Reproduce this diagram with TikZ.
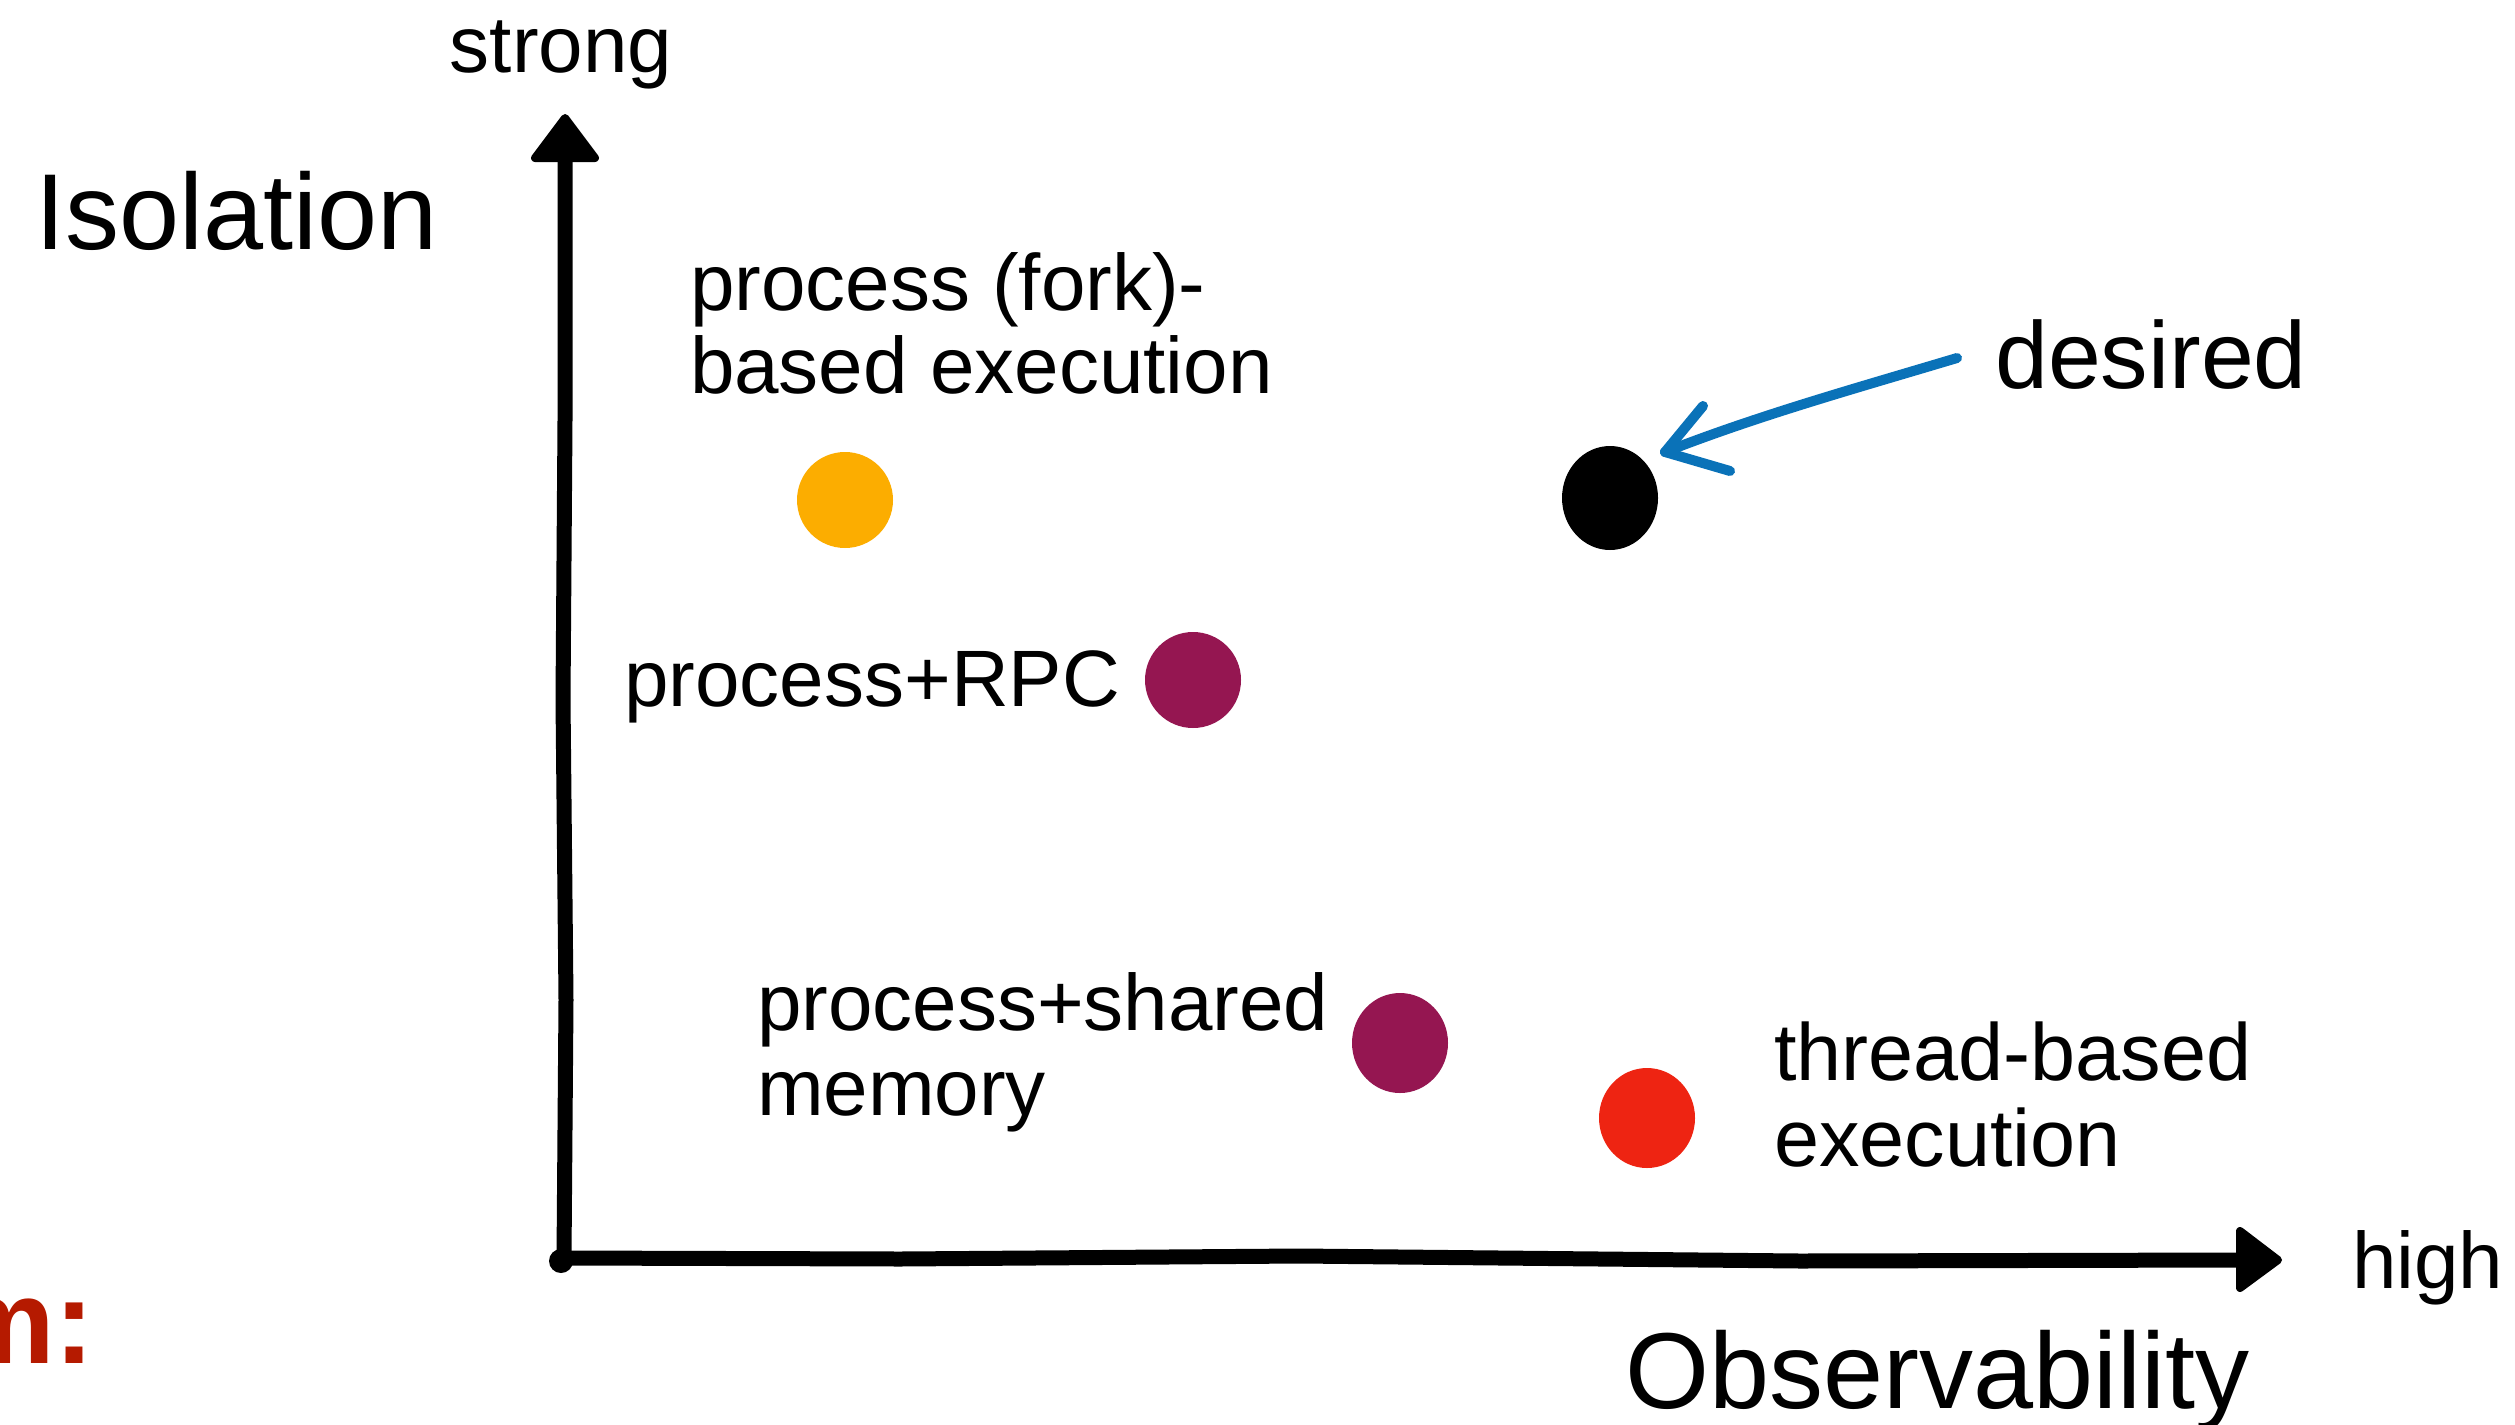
\documentclass[tikz,border=0pt]{standalone}
\usepackage{fontspec}
\setmainfont{Liberation Sans}
\usetikzlibrary{shapes.geometric}
\definecolor{dotorange}{HTML}{FCAD00}
\definecolor{dotpurple}{HTML}{951651}
\definecolor{dotred}{HTML}{EE2412}
\definecolor{arrowblue}{HTML}{0A72B8}
\definecolor{titlered}{HTML}{B51A00}
\tikzset{
  lbl/.style={anchor=base west, inner sep=0pt, outer sep=0pt, font=\fontsize{80}{86}\selectfont},
  biglbl/.style={anchor=base west, inner sep=0pt, outer sep=0pt, font=\fontsize{108}{120}\selectfont},
  dotnode/.style={ellipse, inner sep=0pt, draw=none, minimum width=96pt, minimum height=96pt},
  axisline/.style={line width=15pt, line cap=round, line join=round, black},
  axishead/.style={fill=black, draw=black, line width=8pt, line join=round},
  bluearrow/.style={line width=10pt, line cap=round, line join=round, arrowblue}
}
\begin{document}
\begin{tikzpicture}[x=1pt, y=-1pt]
\useasboundingbox (0,0) rectangle (2515,1424);
% axes
\coordinate (origin) at (564,1258);
\coordinate (ytop) at (565,158);
\coordinate (xend) at (2240,1260);
\draw[axisline] (origin) -- (566,1000) -- (563,700) -- (565,420) -- (ytop);
\draw[axisline] (origin) -- (900,1259) -- (1300,1256) -- (1800,1261) -- (xend);
\fill[black] (561,1261) circle (12pt);
\draw[axishead] (565,118) -- (535,158) -- (595,158) -- cycle;
\draw[axishead] (2278,1260) -- (2240,1231) -- (2240,1288) -- cycle;
% axis labels
\node[lbl, anchor=base] (strong) at (561,72) {strong};
\node[biglbl] (isolation) at (35,249) {Isolation};
\node[lbl] (high) at (2352,1288) {high};
\node[biglbl] (observ) at (1625,1408) {Observability};
\node[anchor=base east, inner sep=0pt, text=titlered, font=\fontsize{120}{130}\selectfont\bfseries] (cut) at (95,1363) {m:};
% dots
\node[dotnode, fill=dotorange] (fork) at (845,500) {};
\node[dotnode, fill=black, minimum height=104pt] (desired) at (1610,498) {};
\node[dotnode, fill=dotpurple] (rpc) at (1193,680) {};
\node[dotnode, fill=dotpurple, minimum height=100pt] (shm) at (1400,1043) {};
\node[dotnode, fill=dotred, minimum height=100pt] (thread) at (1647,1118) {};
% labels
\node[lbl] (forkA) at (690,310) {process (fork)-};
\node[lbl] (forkB) at (690,393) {based execution};
\node[lbl, anchor=base east] (rpclbl) at (1120,706) {process+RPC};
\node[lbl] (shmA) at (757,1030) {process+shared};
\node[lbl] (shmB) at (757,1115) {memory};
\node[lbl, font=\fontsize{81}{86}\selectfont] (threadA) at (1774,1080) {thread-based};
\node[lbl, font=\fontsize{81}{86}\selectfont] (threadB) at (1774,1166) {execution};
\node[anchor=base west, inner sep=0pt, font=\fontsize{95}{100}\selectfont] (desiredlbl) at (1995,388) {desired};
% blue arrow
\coordinate (bstart) at (1957,358);
\coordinate (btip) at (1665,452);
\coordinate (barmA) at (1703,406);
\coordinate (barmB) at (1730,471);
\draw[bluearrow] (bstart) .. controls (1850,390) and (1760,415) .. (btip);
\draw[bluearrow] (barmA) -- (btip) -- (barmB);
\end{tikzpicture}
\end{document}
